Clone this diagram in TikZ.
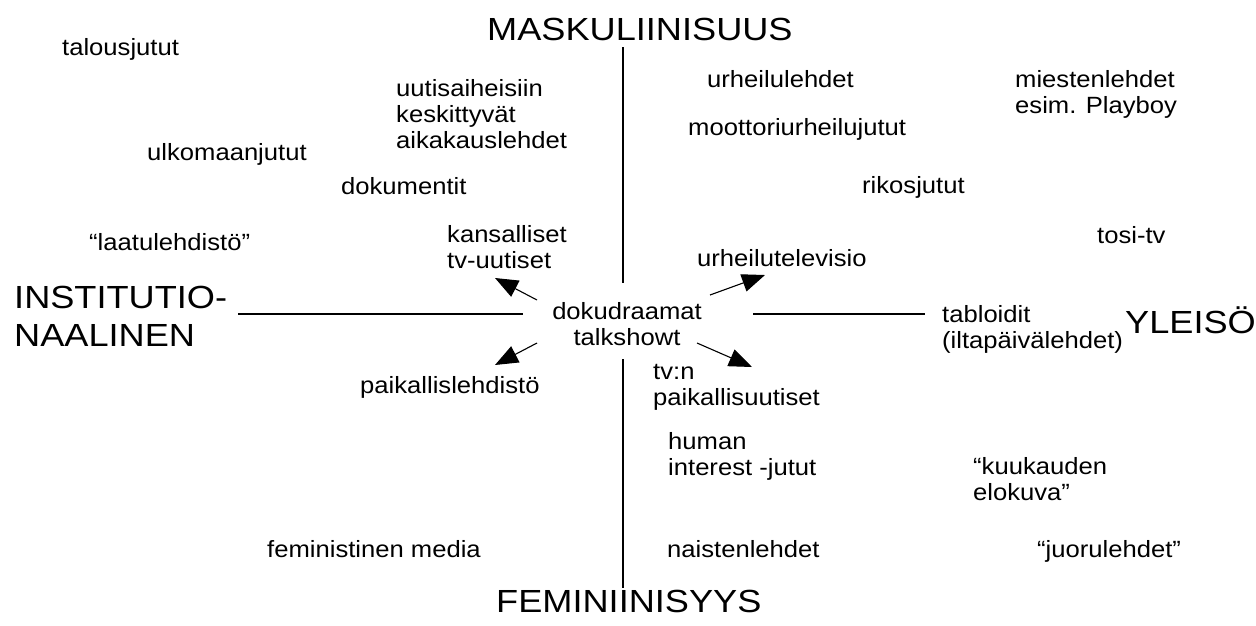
\documentclass[tikz,border=0pt]{standalone}
\usepackage{fontspec}
\setmainfont[FakeStretch=1.09]{Liberation Sans}
\newfontfamily\polefont[FakeStretch=1.13]{Liberation Sans}
\usetikzlibrary{arrows.meta}
\tikzset{
  pole/.style   = {anchor=base west, inner sep=0pt, align=left,
                   font=\polefont\fontsize{32}{38}\selectfont},
  media/.style  = {anchor=base west, inner sep=0pt, align=left,
                   font=\fontsize{23.5}{26}\selectfont},
  axis/.style   = {draw, line width=1.2pt},
}
\begin{document}
\begin{tikzpicture}
  [
    x              = 1pt,
    y              = -1pt,
    pointer/.style = {draw, line width=1.1pt, -{Triangle[length=23pt,width=18pt]}},
  ]
  \useasboundingbox (0,0) rectangle (1256,625);

  % poles (base = last line)
  \node [pole] (masc)   at (487,40)   {MASKULIINISUUS};
  \node [pole] (fem)    at (496,612)  {FEMINIINISYYS};
  \node [pole] (inst)   at (14,346)   {INSTITUTIO-\\NAALINEN};
  \node [pole] (yleiso) at (1125,333) {YLEISÖ};

  % axes
  \coordinate (top-end)   at (623,47);
  \coordinate (top-mid)   at (623,283);
  \coordinate (bot-mid)   at (623,359);
  \coordinate (bot-end)   at (623,588);
  \coordinate (left-end)  at (238,314);
  \coordinate (left-mid)  at (523,314);
  \coordinate (right-mid) at (753,314);
  \coordinate (right-end) at (925,314);
  \draw [axis] (top-end) -- (top-mid);
  \draw [axis] (bot-mid) -- (bot-end);
  \draw [axis] (left-end) -- (left-mid);
  \draw [axis] (right-mid) -- (right-end);

  % media
  \node [media] (talous)   at (62,55)    {talousjutut};
  \node [media] (uutisai)  at (396,148)  {uutisaiheisiin\\keskittyvät\\aikakauslehdet};
  \node [media] (urhlehd)  at (707,87)   {urheilulehdet};
  \node [media] (miesten)  at (1015,113) {miestenlehdet\\esim. Playboy};
  \node [media] (moottori) at (688,135)  {moottoriurheilujutut};
  \node [media] (ulkomaan) at (147,160)  {ulkomaanjutut};
  \node [media] (dokum)    at (341,194)  {dokumentit};
  \node [media] (rikos)    at (862,193)  {rikosjutut};
  \node [media] (laatu)    at (89,250)   {“laatulehdistö”};
  \node [media] (kansall)  at (447,268)  {kansalliset\\tv-uutiset};
  \node [media] (tositv)   at (1097,243) {tosi-tv};
  \node [media] (urhtv)    at (697,266)  {urheilutelevisio};
  \node [media, align=center, anchor=base] (dokudr) at (627,345) {dokudraamat\\talkshowt};
  \node [media] (tabloid)  at (942,348)  {tabloidit\\(iltapäivälehdet)};
  \node [media] (paikleh)  at (360,393)  {paikallislehdistö};
  \node [media] (paikuut)  at (653,405)  {tv:n\\paikallisuutiset};
  \node [media] (human)    at (668,475)  {human\\interest -jutut};
  \node [media] (kuukaud)  at (973,500)  {“kuukauden\\elokuva”};
  \node [media] (feminist) at (267,557)  {feministinen media};
  \node [media] (naisten)  at (667,557)  {naistenlehdet};
  \node [media] (juoru)    at (1037,557) {“juorulehdet”};

  % arrows out of the centre
  \coordinate (from-nw) at (537,300);
  \coordinate (from-ne) at (710,295);
  \coordinate (from-sw) at (537,343);
  \coordinate (from-se) at (697,343);
  \coordinate (to-kansall) at (495,278);
  \coordinate (to-urhtv)   at (765,275);
  \coordinate (to-paikleh) at (495,365);
  \coordinate (to-paikuut) at (752,367);
  \draw [pointer] (from-nw) -- (to-kansall);
  \draw [pointer] (from-ne) -- (to-urhtv);
  \draw [pointer] (from-sw) -- (to-paikleh);
  \draw [pointer] (from-se) -- (to-paikuut);
\end{tikzpicture}
\end{document}
